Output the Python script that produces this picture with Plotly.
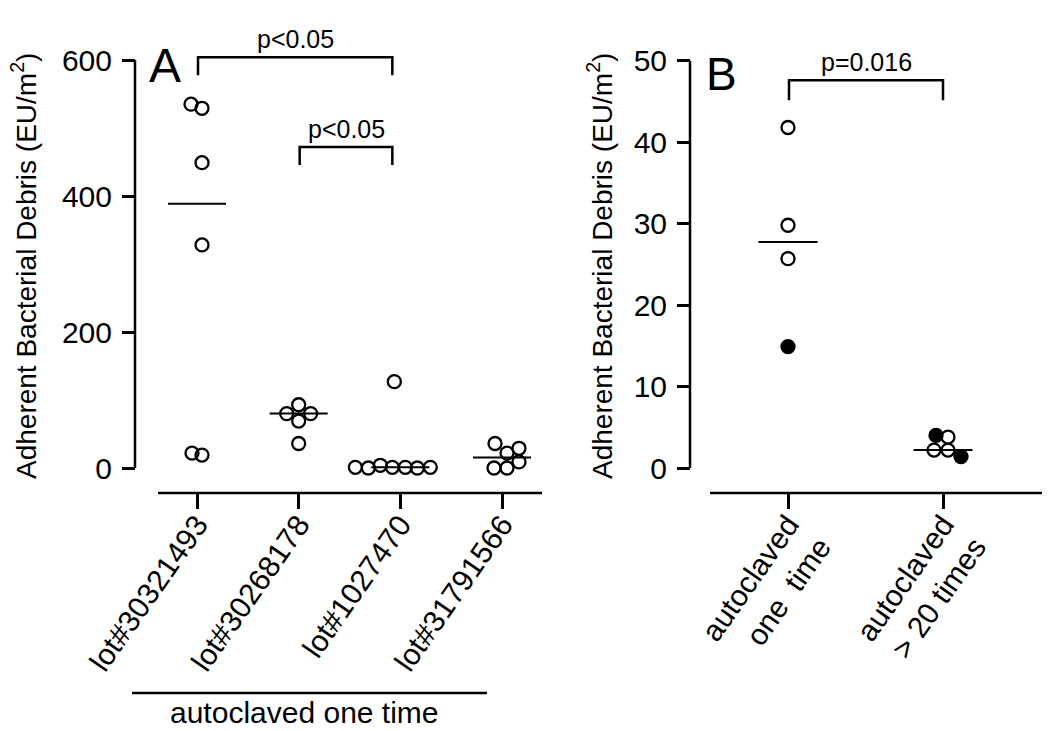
import numpy as np
import plotly.graph_objects as go

W, H = 1050, 731
PAGE = 8  # default body margin of the html page

# Panel A: adherent debris per lot, all autoclaved once (EU/m2)
LOTS = ["lot#30321493", "lot#30268178", "lot#1027470", "lot#31791566"]
LOT_VALUES = [
    [535, 529, 449, 328, 22, 19],
    [93, 80, 80, 69, 36],
    [1, 0, 4, 1, 127, 1, 0, 1],
    [36, 29, 22, 9, 0, 0],
]
LOT_TICKS = [0, 200, 400, 600]

# Panel B: autoclaved once vs > 20 times (EU/m2); filled = solid dots
AUTO = ["autoclaved<br>one  time", "autoclaved<br>> 20 times"]
AUTO_VALUES = [[41.8, 29.8, 25.7, 14.9], [4.0, 3.8, 2.2, 2.2, 1.4]]
AUTO_FILLED = [[False, False, False, True], [True, False, False, False, True]]
AUTO_TICKS = [0, 10, 20, 30, 40, 50]

# significance brackets: (group from, group to, height, label)
A_BRACKETS = [(0, 2, 604, "p<0.05"), (1, 2, 472, "p<0.05")]
B_BRACKETS = [(0, 1, 47.6, "p=0.016")]

# horizontal dot spread in pixels (column-scatter layout)
A_SPREAD = [[-6, 5, 5, 5, -5, 5], [0, -12, 12, 0, 0],
            [-45, -32, -20, -8, -6, 5, 17, 30], [-7, 17, 5, 17, -8, 5]]
B_SPREAD = [[0, 0, 0, 0], [-7, 5, -9, 5, 18]]

FONT = "Liberation Sans, Arial, sans-serif"


def px(x):
    return (x - PAGE) / W


def py(y):
    return 1 - (y - PAGE) / H


fig = go.Figure()
shapes, notes = [], []


def panel(suffix, cats, values, filled, spread, ticks, xpix, ypix_axis, ypix_top, ypix_zero,
          centers, brackets, leg_px, median_half, tick_angle):
    xname = "x" + suffix
    yname = "y" + suffix
    unit = (centers[-1] - centers[0]) / max(len(cats) - 1, 1)
    top_val = ticks[-1]
    scale = (ypix_zero - ypix_top) / top_val
    lo = -(493 - ypix_zero) / scale
    hi = top_val + (ypix_top - 40) / scale
    xlo = 1 - (centers[0] - xpix[0]) / unit
    xhi = len(cats) + (xpix[1] - centers[-1]) / unit

    mx, my = [], []
    for gi, vals in enumerate(values):
        flags = filled[gi] if filled else [False] * len(vals)
        for sym, want in (("circle-open", False), ("circle", True)):
            xs = [gi + 1 + spread[gi][k] / unit for k in range(len(vals)) if flags[k] == want]
            ys = [vals[k] for k in range(len(vals)) if flags[k] == want]
            if xs:
                fig.add_trace(go.Scatter(
                    x=xs, y=ys, mode="markers", xaxis=xname, yaxis=yname, cliponaxis=False,
                    marker=dict(symbol=sym, size=13, color="black", line=dict(color="black", width=2.3)),
                    showlegend=False, hoverinfo="y"))
        med = float(np.median(vals))
        mx += [gi + 1 - median_half / unit, gi + 1 + median_half / unit, None]
        my += [med, med, None]
    fig.add_trace(go.Scatter(x=mx, y=my, mode="lines", xaxis=xname, yaxis=yname,
                             line=dict(color="black", width=2), showlegend=False, hoverinfo="skip"))

    leg = leg_px / scale
    for g0, g1, h, label in brackets:
        x0 = g0 + 1 + 1 / unit
        x1 = g1 + 1 - (8 / unit if suffix == "" else 0)
        fig.add_trace(go.Scatter(x=[x0, x0, x1, x1], y=[h - leg, h, h, h - leg], mode="lines",
                                 xaxis=xname, yaxis=yname, line=dict(color="black", width=2.5),
                                 showlegend=False, hoverinfo="skip"))
        notes.append(dict(x=(x0 + x1) / 2, y=h, xref=xname, yref=yname, text=label, showarrow=False,
                          xanchor="center", yanchor="bottom", yshift=2,
                          font=dict(size=25, family=FONT, color="black")))

    shapes.append(dict(type="line", xref="paper", yref=yname, x0=px(ypix_axis), x1=px(ypix_axis),
                       y0=0, y1=top_val, line=dict(color="black", width=2.5)))
    shapes.append(dict(type="line", xref="paper", yref="paper", x0=px(xpix[0]), x1=px(xpix[1]),
                       y0=py(493), y1=py(493), line=dict(color="black", width=2.5)))

    xa = dict(domain=[px(xpix[0]), px(xpix[1])], range=[xlo, xhi], anchor=yname,
              tickvals=list(range(1, len(cats) + 1)), ticktext=cats, tickangle=tick_angle,
              ticks="outside", ticklen=15, tickwidth=2.5, tickcolor="black", automargin=False,
              ticklabelstandoff=-14,
              showline=False, showgrid=False, zeroline=False,
              tickfont=dict(size=30, family=FONT, color="black"))
    ya = dict(domain=[py(493), py(40)], range=[lo, hi], anchor="free", position=px(ypix_axis),
              tickvals=ticks, ticks="outside", ticklen=13, tickwidth=2.5, tickcolor="black",
              ticklabelstandoff=4,
              showline=False, showgrid=False, zeroline=False, automargin=False,
              tickfont=dict(size=30, family=FONT, color="black"))
    return xa, ya


xa1, ya1 = panel("", LOTS, LOT_VALUES, None, A_SPREAD, LOT_TICKS, (158, 542), 135, 60, 468,
                 (197, 502), A_BRACKETS, 18, 29, -55)
xa2, ya2 = panel("2", AUTO, AUTO_VALUES, AUTO_FILLED, B_SPREAD, AUTO_TICKS, (710, 1050), 690, 60.7, 468,
                 (788, 943), B_BRACKETS, 20, 29.5, -55)


def label(x, y, text, size, angle=0):
    notes.append(dict(x=px(x), y=py(y), xref="paper", yref="paper", text=text, textangle=angle,
                      xanchor="center", yanchor="middle", showarrow=False,
                      font=dict(size=size, family=FONT, color="black")))


title = "Adherent Bacterial Debris (EU/m<sup>2</sup>)"
label(24, 266, title, 28, -90)
label(600, 266, title, 28, -90)
label(165, 66, "A", 48)
label(721, 74, "B", 46)
label(304, 712, "autoclaved one time", 30)
shapes.append(dict(type="line", xref="paper", yref="paper", x0=px(132), x1=px(487), y0=py(693), y1=py(693),
                   line=dict(color="black", width=2.5)))

fig.update_layout(
    template="none",
    width=W, height=H, margin=dict(l=0, r=0, t=0, b=0, autoexpand=False),
    paper_bgcolor="white", plot_bgcolor="white",
    xaxis=xa1, yaxis=ya1, xaxis2=xa2, yaxis2=ya2,
    shapes=shapes, annotations=notes, showlegend=False,
    font=dict(family=FONT, color="black"),
)
fig.write_html("out.html")
